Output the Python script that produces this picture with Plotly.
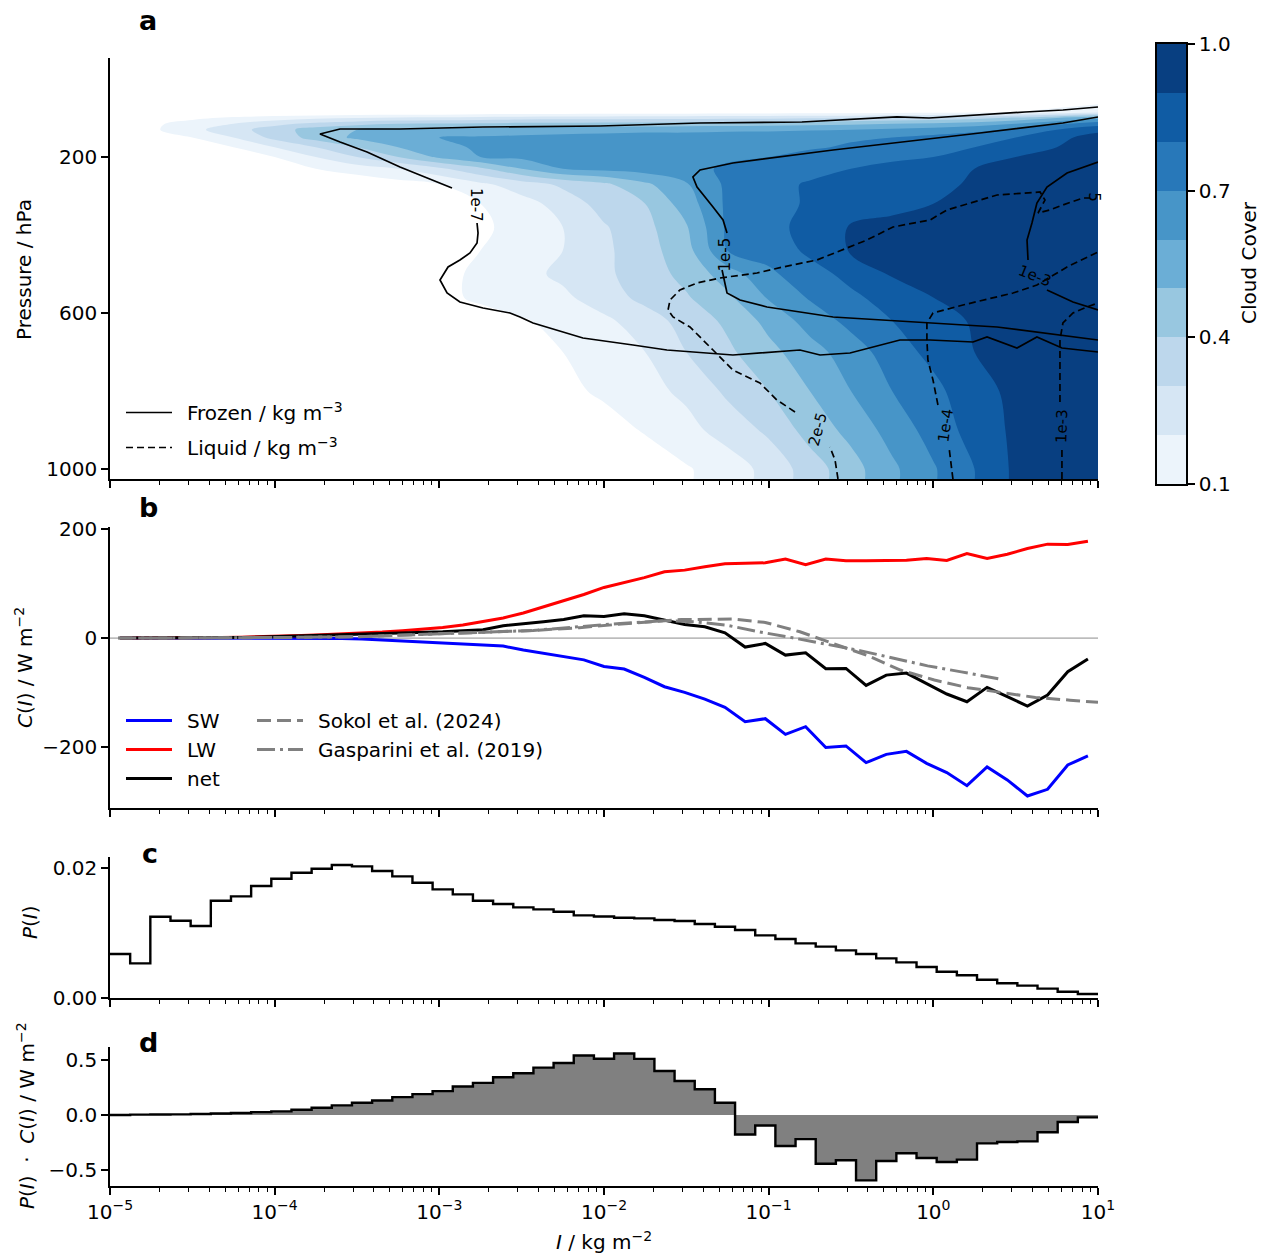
import numpy as np
import plotly.graph_objects as go

W, H = 1266, 1254
def px(x): return x / W
def py(y): return 1 - y / H

FONT = "DejaVu Sans"
SP = "\u2002"  # small gap between legend line sample and its text

# ---------------- panel a : cloud cover field (columns = log10 I, rows = pressure) -------------
grid_logI = [-5.0, -4.75, -4.5, -4.25, -4.0, -3.75, -3.5, -3.25, -3.0, -2.75, -2.5, -2.25, -2.0,
             -1.75, -1.5, -1.25, -1.0, -0.75, -0.5, -0.25, 0.0, 0.25, 0.5, 0.75, 1.0]
grid_p = [40, 85, 100, 115, 130, 150, 175, 200, 230, 270, 320, 380, 440, 500, 560, 620,
          700, 800, 900, 1000, 1030]
cc_0040 = [0] * 25
cc_0085 = [0, 0, 0, 0, 0, 0, 0, 0, 0, 0.02, 0.03, 0.03, 0.04, 0.04, 0.04, 0.04, 0.05, 0.05, 0.05, 0.06, 0.07, 0.08, 0.1, 0.13, 0.18]
cc_0100 = [0, 0.02, 0.08, 0.12, 0.15, 0.18, 0.2, 0.22, 0.23, 0.24, 0.25, 0.26, 0.26, 0.27, 0.27, 0.28, 0.28, 0.29, 0.3, 0.32, 0.34, 0.37, 0.42, 0.5, 0.58]
cc_0115 = [0, 0.08, 0.14, 0.2, 0.27, 0.33, 0.37, 0.4, 0.41, 0.42, 0.43, 0.43, 0.44, 0.44, 0.45, 0.45, 0.46, 0.47, 0.48, 0.5, 0.52, 0.55, 0.6, 0.68, 0.75]
cc_0130 = [0, 0.08, 0.17, 0.26, 0.35, 0.45, 0.5, 0.52, 0.53, 0.54, 0.55, 0.56, 0.56, 0.57, 0.57, 0.58, 0.58, 0.59, 0.6, 0.62, 0.64, 0.67, 0.72, 0.8, 0.88]
cc_0150 = [0, 0, 0.1, 0.2, 0.33, 0.44, 0.52, 0.56, 0.6, 0.61, 0.62, 0.63, 0.64, 0.65, 0.65, 0.66, 0.67, 0.68, 0.69, 0.7, 0.73, 0.76, 0.8, 0.88, 0.93]
cc_0175 = [0, 0, 0, 0.1, 0.2, 0.3, 0.4, 0.5, 0.58, 0.61, 0.62, 0.63, 0.64, 0.65, 0.66, 0.67, 0.68, 0.69, 0.71, 0.74, 0.76, 0.8, 0.85, 0.9, 0.95]
cc_0200 = [0, 0, 0, 0.03, 0.1, 0.2, 0.3, 0.4, 0.52, 0.6, 0.62, 0.63, 0.64, 0.66, 0.67, 0.69, 0.7, 0.73, 0.75, 0.78, 0.8, 0.86, 0.9, 0.93, 0.96]
cc_0230 = [0, 0, 0, 0, 0, 0.1, 0.15, 0.2, 0.28, 0.38, 0.5, 0.6, 0.63, 0.65, 0.68, 0.71, 0.74, 0.77, 0.8, 0.83, 0.86, 0.9, 0.92, 0.94, 0.96]
cc_0270 = [0, 0, 0, 0, 0, 0, 0.02, 0.06, 0.1, 0.18, 0.25, 0.32, 0.38, 0.48, 0.59, 0.72, 0.77, 0.81, 0.83, 0.86, 0.88, 0.91, 0.93, 0.95, 0.96]
cc_0320 = [0, 0, 0, 0, 0, 0, 0, 0, 0.02, 0.1, 0.16, 0.24, 0.34, 0.4, 0.55, 0.72, 0.77, 0.81, 0.84, 0.87, 0.9, 0.92, 0.94, 0.95, 0.96]
cc_0380 = [0, 0, 0, 0, 0, 0, 0, 0, 0, 0.08, 0.14, 0.2, 0.29, 0.37, 0.49, 0.72, 0.77, 0.83, 0.91, 0.93, 0.95, 0.96, 0.97, 0.97, 0.98]
cc_0440 = [0, 0, 0, 0, 0, 0, 0, 0, 0.02, 0.1, 0.15, 0.2, 0.28, 0.36, 0.46, 0.7, 0.74, 0.82, 0.91, 0.93, 0.95, 0.96, 0.97, 0.97, 0.98]
cc_0500 = [0, 0, 0, 0, 0, 0, 0, 0.02, 0.07, 0.12, 0.17, 0.22, 0.28, 0.35, 0.43, 0.55, 0.68, 0.76, 0.83, 0.91, 0.93, 0.95, 0.96, 0.97, 0.98]
cc_0560 = [0, 0, 0, 0, 0, 0, 0, 0, 0.07, 0.12, 0.15, 0.18, 0.25, 0.33, 0.39, 0.48, 0.61, 0.71, 0.78, 0.84, 0.9, 0.93, 0.95, 0.96, 0.97]
cc_0620 = [0, 0, 0, 0, 0, 0, 0, 0, 0.02, 0.05, 0.09, 0.13, 0.18, 0.25, 0.34, 0.42, 0.53, 0.64, 0.73, 0.8, 0.86, 0.91, 0.94, 0.96, 0.97]
cc_0700 = [0, 0, 0, 0, 0, 0, 0, 0, 0, 0.02, 0.05, 0.1, 0.15, 0.2, 0.3, 0.38, 0.47, 0.56, 0.65, 0.75, 0.83, 0.9, 0.93, 0.95, 0.97]
cc_0800 = [0, 0, 0, 0, 0, 0, 0, 0, 0, 0, 0.02, 0.07, 0.12, 0.17, 0.22, 0.32, 0.4, 0.5, 0.6, 0.7, 0.77, 0.87, 0.92, 0.95, 0.96]
cc_0900 = [0, 0, 0, 0, 0, 0, 0, 0, 0, 0, 0, 0.01, 0.05, 0.11, 0.17, 0.24, 0.32, 0.44, 0.53, 0.64, 0.74, 0.84, 0.92, 0.95, 0.96]
cc_1000 = [0, 0, 0, 0, 0, 0, 0, 0, 0, 0, 0, 0, 0, 0.03, 0.09, 0.15, 0.23, 0.35, 0.46, 0.58, 0.69, 0.8, 0.92, 0.95, 0.96]
cc_1030 = [0, 0, 0, 0, 0, 0, 0, 0, 0, 0, 0, 0, 0, 0.03, 0.09, 0.15, 0.23, 0.35, 0.46, 0.58, 0.69, 0.8, 0.92, 0.95, 0.96]
cloud_cover = [cc_0040, cc_0085, cc_0100, cc_0115, cc_0130, cc_0150, cc_0175, cc_0200, cc_0230,
               cc_0270, cc_0320, cc_0380, cc_0440, cc_0500, cc_0560, cc_0620, cc_0700, cc_0800,
               cc_0900, cc_1000, cc_1030]
cc_levels = [0.1, 0.2, 0.3, 0.4, 0.5, 0.6, 0.7, 0.8, 0.9, 1.0]
cc_colors = ["#ecf4fb", "#d6e6f4", "#bdd7ec", "#98c7e0", "#6baed6",
             "#4795c8", "#2878b9", "#105ca4", "#083f81"]

# frozen-water contours (1e-7, 1e-5, 1e-3), traced (log10 I, pressure)
frozen_logI = [1.0, 0.787, 0.557, 0.283, -0.026, -0.221, -0.798, -1.417, -2.024, -2.735, -3.239, -3.603,
               -3.725, -3.603, -3.439, -3.239, -3.038, -2.923, None,
               -2.771, -2.765, -2.771, -2.814, -2.875, -2.947, -2.996, -2.953, -2.875, -2.735, -2.571,
               -2.510, -2.431, -2.128, -1.824, -1.618, -1.217, -0.810, -0.688, -0.506, -0.203, -0.020,
               0.241, 0.326, 0.508, 0.629, 0.781, 1.0, None,
               1.0, 0.787, 0.283, -0.081, -0.609, -1.217, -1.417, -1.460, -1.435, -1.338, -1.277, -1.253, None,
               -1.283, -1.253, -1.174, -1.010, -0.609, -0.081, 0.387, 1.0, None,
               1.0, 0.812, 0.690, 0.629, 0.599, 0.569, 0.575, None, 0.690, 0.727, 0.848, 1.0]
frozen_p = [71.8, 79.5, 84.6, 92.3, 100, 97.4, 110.3, 112.8, 120.5, 123.1, 128.2, 128.2,
            141, 161.5, 187.2, 225.6, 259, 279.5, None,
            369.2, 394.9, 420.5, 446.1, 464.1, 482, 515.4, 548.7, 571.8, 587.2, 600,
            610.2, 625.6, 664.1, 682, 694.9, 707.7, 694.9, 707.7, 702.6, 669.2, 669.2,
            674.3, 661.5, 689.7, 661.5, 689.7, 700, None,
            97.4, 112.8, 138.5, 156.4, 182.1, 215.4, 233.3, 251.3, 276.9, 328.2, 361.5, 394.9, None,
            489.7, 548.7, 566.7, 584.6, 610.2, 623.1, 635.9, 669.2, None,
            212.8, 241, 276.9, 317.9, 369.2, 412.8, 464.1, None, 541, 548.7, 571.8, 592.3]

# liquid-water contours (2e-5, 1e-4, 1e-3), traced (log10 I, pressure)
liquid_logI = [-0.579, -0.597, -0.628, None, -0.840, -0.950, -1.053, -1.217, -1.338, -1.399, -1.478,
               -1.581, -1.611, -1.599, -1.539, -1.435, -1.296, -1.071, -0.913, -0.707, -0.549, -0.403,
               -0.245, -0.020, 0.083, 0.283, 0.387, 0.648, 0.678, 0.636, 0.708, 0.787, 0.909, 0.951, None,
               0.119, 0.107, 0.095, None, 0.028, -0.002, -0.033, -0.039, -0.039, -0.002, 0.180, 0.484,
               0.629, 0.812, 1.0, None,
               0.781, 0.781, None, 0.769, 0.769, 0.787, 0.848, 0.933, 1.0]
liquid_p = [1025.6, 976.9, 943.6, None, 853.8, 823, 779.5, 746.2, 694.9, 669.2, 635.9,
            610.2, 592.3, 566.7, 541, 523, 510.3, 497.4, 482, 464.1, 438.5, 412.8,
            379.5, 361.5, 335.9, 310.3, 297.4, 289.7, 310.3, 343.6, 335.9, 323, 305.1, 305.1, None,
            1025.6, 976.9, 943.6, None, 835.9, 771.8, 720.5, 669.2, 625.6, 600, 579.5, 548.7,
            528.2, 482, 443.6, None,
            1025.6, 951.3, None, 828.2, 669.2, 625.6, 600, 584.6, 574.4]

clabel_text = ["1e-7", "1e-5", "2e-5", "1e-4", "1e-3", "1e-3", "5"]
clabel_logI = [-2.777, -1.265, -0.700, 0.077, 0.781, 0.617, 0.975]
clabel_p = [323, 450, 898, 888, 890, 505, 303]
clabel_angle = [90, -90, -75, -82, -88, 22, 90]

# ---------------- panels b-d : binned quantities (49 log bins from 1e-5 to 1e1) -------------
n_bins = 49
sw = [0, 0, 0, 0, 0, 0, -0.2, -0.3, -0.4, -0.5, -0.6, -0.8, -1.8, -3.7, -5.5, -8.0, -9.8, -11.6, -13.5,
      -14.7, -22.0, -28.0, -34.0, -40.0, -52.0, -56.9, -72.0, -89.3, -99.7, -112.0, -127.0, -153.5,
      -148.0, -176.7, -162.7, -201.0, -198.0, -228.7, -213.5, -208.0, -230.0, -247.0, -271.0, -236.7,
      -260.5, -290.0, -277.7, -233.0, -216.5]
lw = [0, 0, 0.3, 0.5, 0.8, 1.2, 1.7, 2.4, 3.7, 4.9, 6.0, 7.3, 9.2, 11.0, 13.5, 16.0, 19.5, 24.0, 30.0,
      37.0, 46.0, 57.0, 68.0, 80.0, 93.0, 101.5, 111.0, 121.7, 124.8, 130.9, 136.4, 137.6, 138.2, 145.0,
      134.6, 145.0, 141.9, 141.9, 143.1, 143.1, 146.2, 142.5, 155.3, 146.2, 154.0, 164.5, 172.5, 171.9, 178.0]
net = [0, 0, 0.3, 0.5, 0.8, 1.0, 1.3, 1.8, 2.8, 3.8, 4.8, 5.8, 6.8, 7.5, 8.6, 9.8, 11.6, 13.5, 15.5,
       22.6, 25.7, 30.0, 34.0, 41.0, 39.8, 44.6, 41.0, 33.0, 25.0, 20.8, 9.8, -16.5, -9.8, -31.2, -27.0,
       -56.3, -55.7, -86.8, -68.0, -64.2, -83.0, -102.7, -116.8, -90.5, -107.6, -124.8, -104.6, -61.8, -38.5]
sokol_logI = [-4.95, -4.5, -4.0, -3.5, -3.24, -2.83, -2.43, -2.15, -1.85, -1.53, -1.22, -1.02, -0.81,
              -0.61, -0.40, -0.20, 0.006, 0.21, 0.42, 0.62, 0.83, 1.0]
sokol_val = [0, 0.3, 1, 2.5, 5, 9, 14, 19, 27, 34, 35, 28.7, 11.6, -9.8, -32, -58.7, -77, -91, -100,
             -109, -114, -118]
gasp_logI = [-4.95, -4.5, -4.0, -3.5, -3.24, -2.83, -2.43, -2.15, -1.9, -1.63, -1.45, -1.26, -1.06,
             -0.855, -0.65, -0.445, -0.24, -0.035, 0.17, 0.42]
gasp_val = [0, 0.3, 1, 2.5, 5, 9, 14, 21, 27, 32, 30, 24, 11.6, 0.6, -11, -23, -37, -51, -62, -76]

prob = [0.00677, 0.00533, 0.01251, 0.0119, 0.01108, 0.01497, 0.01564, 0.01723, 0.01836, 0.01928,
        0.0199, 0.02046, 0.02026, 0.01954, 0.01872, 0.01774, 0.01672, 0.01595, 0.01497, 0.01446,
        0.01395, 0.01364, 0.01328, 0.01272, 0.01255, 0.01235, 0.01226, 0.0120, 0.01185, 0.01138,
        0.01097, 0.01046, 0.00964, 0.00908, 0.00841, 0.0079, 0.00733, 0.00677, 0.0061, 0.00549,
        0.00477, 0.00405, 0.00349, 0.00282, 0.00226, 0.0019, 0.00144, 0.00097, 0.00062]
prob_cre = [0.0, 0.003, 0.005, 0.006, 0.009, 0.014, 0.018, 0.026, 0.033, 0.048, 0.066, 0.087, 0.110,
            0.131, 0.161, 0.188, 0.215, 0.257, 0.290, 0.340, 0.376, 0.427, 0.469, 0.537, 0.507, 0.554,
            0.506, 0.396, 0.307, 0.232, 0.110, -0.176, -0.095, -0.28, -0.217, -0.44, -0.408, -0.589,
            -0.414, -0.345, -0.387, -0.423, -0.402, -0.256, -0.244, -0.238, -0.155, -0.0625, -0.021]

x_major = [1e-5, 1e-4, 1e-3, 1e-2, 1e-1, 1e0, 1e1]
x_major_text = ["10<sup>−5</sup>", "10<sup>−4</sup>", "10<sup>−3</sup>", "10<sup>−2</sup>",
                "10<sup>−1</sup>", "10<sup>0</sup>", "10<sup>1</sup>"]

# ---------------- derived structure ----------------
edges = 10 ** np.linspace(-5, 1, n_bins + 1)
centers = np.sqrt(edges[:-1] * edges[1:])
x_minor = [m * 10.0 ** e for e in range(-5, 1) for m in range(2, 10)]

steps = [[0.0, "#ffffff"], [0.05, "#ffffff"]]
for i, c in enumerate(cc_colors):
    lo = round(0.05 + 0.1 * i, 4)
    hi = round(0.15 + 0.1 * i, 4) if i < len(cc_colors) - 1 else 1.0
    steps += [[lo, c], [hi, c]]

fig = go.Figure()

# panel a
fig.add_trace(go.Contour(
    x=10 ** np.array(grid_logI), y=grid_p, z=cloud_cover, autocontour=False,
    contours=dict(start=cc_levels[0], end=cc_levels[-1], size=0.1, coloring="fill", showlines=False),
    colorscale=steps, showscale=False, line=dict(width=0, smoothing=1.0), hoverinfo="skip",
    xaxis="x", yaxis="y", showlegend=False))
fig.add_trace(go.Scatter(
    x=[None if v is None else 10 ** v for v in frozen_logI], y=frozen_p, mode="lines",
    line=dict(color="black", width=1.7), name=SP + "Frozen / kg m<sup>−3</sup>",
    legend="legend", legendgroup="fz", xaxis="x", yaxis="y", connectgaps=False))
fig.add_trace(go.Scatter(
    x=[None if v is None else 10 ** v for v in liquid_logI], y=liquid_p, mode="lines",
    line=dict(color="black", width=1.7, dash="7px,4px"), name=SP + "Liquid / kg m<sup>−3</sup>",
    legend="legend", legendgroup="lq", xaxis="x", yaxis="y", connectgaps=False))

# panel b
fig.add_trace(go.Scatter(x=[1e-5, 1e1], y=[0, 0], mode="lines", line=dict(color="#8c8c8c", width=1),
                         showlegend=False, xaxis="x2", yaxis="y2", hoverinfo="skip"))
fig.add_trace(go.Scatter(x=centers, y=sw, mode="lines", line=dict(color="#0000ff", width=3),
                         name=SP + "SW", legend="legend2", xaxis="x2", yaxis="y2"))
fig.add_trace(go.Scatter(x=centers, y=lw, mode="lines", line=dict(color="#ff0000", width=3),
                         name=SP + "LW", legend="legend2", xaxis="x2", yaxis="y2"))
fig.add_trace(go.Scatter(x=centers, y=net, mode="lines", line=dict(color="black", width=3),
                         name=SP + "net", legend="legend2", xaxis="x2", yaxis="y2"))
fig.add_trace(go.Scatter(x=10 ** np.array(sokol_logI), y=sokol_val, mode="lines",
                         line=dict(color="#808080", width=3, dash="14px,6px"),
                         name=SP + "Sokol et al. (2024)", legend="legend3", xaxis="x2", yaxis="y2"))
fig.add_trace(go.Scatter(x=10 ** np.array(gasp_logI), y=gasp_val, mode="lines",
                         line=dict(color="#808080", width=3, dash="18px,5px,3px,5px"),
                         name=SP + "Gasparini et al. (2019)", legend="legend3", xaxis="x2", yaxis="y2"))

# panel c
fig.add_trace(go.Scatter(x=edges, y=prob + [prob[-1]], mode="lines", line=dict(color="black", width=2.4, shape="hv"),
                         showlegend=False, xaxis="x3", yaxis="y3"))
# panel d
fig.add_trace(go.Scatter(x=edges, y=prob_cre + [prob_cre[-1]], mode="lines",
                         line=dict(color="black", width=2.4, shape="hv"), fill="tozeroy",
                         fillcolor="#808080", showlegend=False, xaxis="x4", yaxis="y4"))

# colour bar (drawn as its own small axis)
mids = [round((a + b) / 2, 3) for a, b in zip(cc_levels[:-1], cc_levels[1:])]
fig.add_trace(go.Heatmap(x=[0], y=mids, z=[[m] for m in mids], colorscale=steps, zmin=0.05, zmax=1.05,
                         showscale=False, xaxis="x5", yaxis="y5", hoverinfo="skip"))

XD = [px(110), px(1098)]
tickfont = dict(family=FONT, size=20, color="black")

def xaxis(anchor, labels):
    return dict(type="log", range=[-5, 1], domain=XD, anchor=anchor, showline=True, linecolor="black",
                linewidth=1.6, ticks="outside", ticklen=7, tickwidth=1.6, tickcolor="black",
                tickmode="array", tickvals=x_major, ticktext=x_major_text, showticklabels=labels,
                showgrid=False, zeroline=False, tickfont=tickfont, automargin=False,
                minor=dict(tickmode="array", tickvals=x_minor, ticks="outside", ticklen=4,
                           tickwidth=1.2, tickcolor="black", showgrid=False))

def yaxis(anchor, dom, rng, vals, text):
    return dict(domain=dom, anchor=anchor, range=rng, showline=True, linecolor="black", linewidth=1.6,
                ticks="outside", ticklen=7, tickwidth=1.6, tickcolor="black", tickmode="array",
                tickvals=vals, ticktext=text, showgrid=False, zeroline=False, tickfont=tickfont,
                automargin=False)

annotations = []
for t, lx, lp, ang in zip(clabel_text, clabel_logI, clabel_p, clabel_angle):
    annotations.append(dict(text=t, x=lx, y=lp, xref="x", yref="y", showarrow=False, textangle=ang,
                            xanchor="center", yanchor="middle",
                            font=dict(family=FONT, size=15, color="black")))

def ann(text, x, y, size=20, angle=0, bold=False):
    annotations.append(dict(text=("<b>%s</b>" % text) if bold else text, x=px(x), y=py(y),
                            xref="paper", yref="paper", showarrow=False, textangle=angle,
                            xanchor="center", yanchor="middle",
                            font=dict(family=FONT, size=size, color="black")))

ann("a", 148, 20, 27, bold=True)
ann("b", 148, 508, 27, bold=True)
ann("c", 150, 853, 27, bold=True)
ann("d", 148, 1042, 27, bold=True)
ann("Pressure / hPa", 24, 270, angle=-90)
ann("<i>C</i>(<i>I</i>) / W m<sup>−2</sup>", 24, 668, angle=-90)
ann("<i>P</i>(<i>I</i>)", 30, 922, angle=-90)
ann("<i>P</i>(<i>I</i>)  ·  <i>C</i>(<i>I</i>) / W m<sup>−2</sup>", 26, 1116, angle=-90)
ann("<i>I</i> / kg m<sup>−2</sup>", 604, 1241)
ann("Cloud Cover", 1249, 263, angle=-90)

legfont = dict(family=FONT, size=20, color="black")
fig.update_layout(
    width=W, height=H, margin=dict(l=0, r=0, t=0, b=0, pad=0, autoexpand=False),
    paper_bgcolor="white", plot_bgcolor="white",
    font=dict(family=FONT, size=20, color="black"), hovermode=False,
    xaxis=xaxis("y", False),
    yaxis=yaxis("x", [py(479), py(58)], [1025.6, -53.8], [200, 600, 1000], ["200", "600", "1000"]),
    xaxis2=xaxis("y2", False),
    yaxis2=yaxis("x2", [py(808), py(527)], [-312, 204], [-200, 0, 200], ["−200", "0", "200"]),
    xaxis3=xaxis("y3", False),
    yaxis3=yaxis("x3", [py(998), py(857)], [0, 0.0217], [0, 0.02], ["0.00", "0.02"]),
    xaxis4=xaxis("y4", True),
    yaxis4=yaxis("x4", [py(1186), py(1047)], [-0.64, 0.613], [-0.5, 0, 0.5], ["−0.5", "0.0", "0.5"]),
    xaxis5=dict(domain=[px(1157), px(1186)], anchor="y5", range=[-0.5, 0.5], showline=True, mirror=True,
                linecolor="black", linewidth=1.6, ticks="", showticklabels=False, showgrid=False,
                zeroline=False, automargin=False),
    yaxis5=dict(domain=[py(484), py(44)], anchor="x5", range=[0.1, 1.0], side="right", showline=True,
                mirror=True, linecolor="black", linewidth=1.6, ticks="outside", ticklen=7, tickwidth=1.6,
                tickcolor="black", tickmode="array", tickvals=[0.1, 0.4, 0.7, 1.0],
                ticktext=["0.1", "0.4", "0.7", "1.0"], showgrid=False, zeroline=False, tickfont=tickfont,
                automargin=False),
    legend=dict(x=px(121), y=py(393), xanchor="left", yanchor="top", bgcolor="rgba(0,0,0,0)",
                font=legfont, tracegroupgap=6, itemwidth=46),
    legend2=dict(x=px(121), y=py(701), xanchor="left", yanchor="top", bgcolor="rgba(0,0,0,0)",
                 font=legfont, itemwidth=46),
    legend3=dict(x=px(252), y=py(701), xanchor="left", yanchor="top", bgcolor="rgba(0,0,0,0)",
                 font=legfont, itemwidth=46),
    annotations=annotations,
)

fig.write_html("out.html")
